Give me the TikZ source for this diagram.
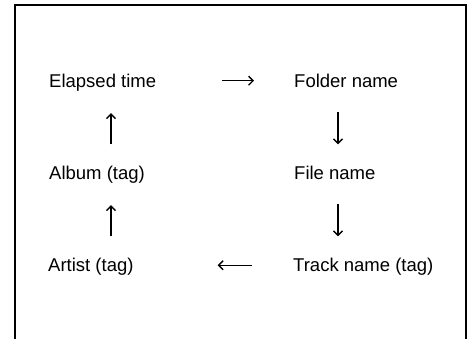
\documentclass[tikz,border=0pt]{standalone}
\usepackage{fontspec}
\setmainfont{Liberation Sans}
\usetikzlibrary{arrows.meta}
\begin{document}
\begin{tikzpicture}[x=1pt,y=1pt,
  lbl/.style={anchor=base west, inner sep=0pt, text height=13.5pt, text depth=4pt,
    font=\fontsize{18.5}{22}\selectfont},
  arr/.style={line width=1.4pt, -{Straight Barb[length=4.5pt,width=9pt,line width=1.4pt]}},
  frame/.style={line width=1.4pt}]
\useasboundingbox (0,0) rectangle (469,339);
\draw[frame] (15,-1) -- (15,334) -- (466,334) -- (466,-1);
\node[lbl] (elapsed) at (49,251) {Elapsed time};
\node[lbl] (album)   at (49,159) {Album (tag)};
\node[lbl] (artist)  at (48,67)  {Artist (tag)};
\node[lbl] (folder)  at (294,251) {Folder name};
\node[lbl] (file)    at (294,159) {File name};
\node[lbl] (track)   at (293,67)  {Track name (tag)};
\coordinate (lx) at (111,0);
\coordinate (rx) at (338,0);
\draw[arr, shorten <=66pt, shorten >=40pt] ([yshift=2.5pt]elapsed.east) -- ([yshift=2.5pt]folder.west);
\draw[arr, shorten <=41pt, shorten >=84pt] ([yshift=2pt]track.west) -- ([yshift=2pt]artist.east);
\draw[arr, shorten <=20pt, shorten >=22pt] (folder.south -| rx) -- (file.north -| rx);
\draw[arr, shorten <=20pt, shorten >=22pt] (file.south -| rx) -- (track.north -| rx);
\draw[arr, shorten <=22pt, shorten >=21pt] (album.north -| lx) -- (elapsed.south -| lx);
\draw[arr, shorten <=22pt, shorten >=21pt] (artist.north -| lx) -- (album.south -| lx);
\end{tikzpicture}
\end{document}
